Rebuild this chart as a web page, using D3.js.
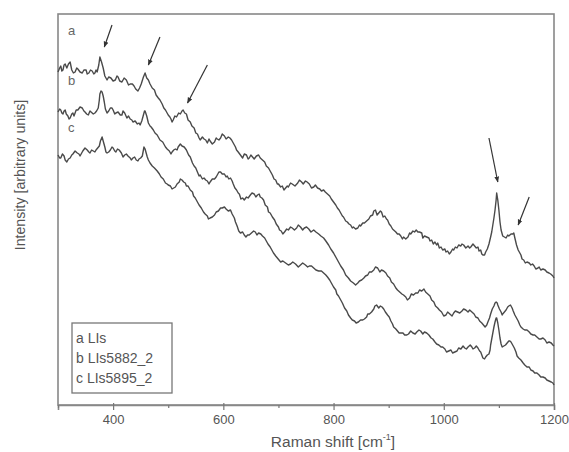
<!DOCTYPE html>
<html>
<head>
<meta charset="utf-8">
<script src="https://cdn.jsdelivr.net/npm/d3@7"></script>
<style>
  html, body { margin: 0; padding: 0; background: #fff; }
  svg { display: block; }
</style>
</head>
<body>
<div id="chart"></div>
<script>
// ---- Data (Raman shift in cm^-1, intensity in arbitrary units) ----
const seriesNames = ["a", "b", "c"];
const legendLabels = ["a LIs", "b LIs5882_2", "c LIs5895_2"];
const xTicks = [400, 600, 800, 1000, 1200];
const xMinorTicks = [300, 500, 700, 900, 1100];

const spectrumA = [
  [300,333],[303,337],[305,339],[307,334],[309,335],[311,340],[313,341],[316,337],[319,341],[322,343],[325,335],[328,332],[331,333],[334,337],[336,336],[340,333],[344,332],[347,335],[351,335],[353,331],[356,332],[359,335],[362,334],[365,331],[367,332],[369,335],[371,333],[374,340],[376,348],[379,343],[382,337],[385,329],[389,325],[392,328],[396,327],[400,324],[404,325],[407,329],[409,328],[412,324],[416,323],[420,327],[424,325],[428,320],[431,321],[435,321],[438,319],[441,316],[445,314],[448,317],[451,321],[455,328],[458,332],[461,327],[464,325],[467,321],[471,317],[475,315],[478,310],[482,307],[485,305],[489,301],[492,297],[495,295],[498,292],[500,290],[503,288],[505,286],[507,283],[509,285],[512,289],[515,288],[519,292],[522,291],[525,294],[527,295],[530,292],[533,291],[536,285],[540,283],[543,279],[547,277],[550,272],[553,271],[556,267],[558,265],[562,268],[565,266],[568,265],[571,262],[574,266],[576,264],[580,261],[584,263],[587,267],[589,266],[592,265],[595,267],[598,271],[602,269],[605,266],[609,268],[612,267],[615,265],[618,262],[622,258],[624,255],[627,253],[631,250],[635,247],[638,251],[642,250],[645,246],[647,247],[650,250],[653,248],[656,246],[660,249],[664,250],[667,247],[671,245],[675,243],[678,239],[682,237],[685,234],[689,230],[692,226],[695,225],[698,221],[700,221],[704,218],[707,219],[710,215],[713,217],[716,219],[718,218],[722,222],[725,221],[730,219],[735,222],[738,225],[742,223],[745,221],[749,224],[752,223],[756,221],[760,217],[764,218],[767,220],[771,217],[775,216],[778,214],[782,215],[785,213],[789,211],[793,209],[796,206],[800,203],[804,200],[807,197],[810,195],[813,192],[816,189],[818,188],[822,184],[825,183],[828,181],[831,180],[834,177],[836,178],[840,176],[844,177],[847,180],[849,179],[853,182],[856,182],[860,184],[864,186],[867,189],[871,190],[873,194],[876,195],[879,190],[882,192],[885,194],[887,193],[890,188],[893,189],[896,186],[898,185],[901,181],[904,179],[907,176],[909,175],[913,173],[916,171],[919,171],[922,169],[925,166],[927,168],[931,166],[935,168],[938,172],[940,171],[944,174],[947,173],[950,175],[953,173],[956,173],[960,172],[962,167],[965,169],[969,168],[973,167],[975,164],[978,165],[981,161],[984,163],[987,160],[989,162],[992,157],[995,158],[998,155],[1002,156],[1004,153],[1007,154],[1010,151],[1013,153],[1016,156],[1018,155],[1021,158],[1024,157],[1027,160],[1031,159],[1033,161],[1036,160],[1040,157],[1044,159],[1047,157],[1049,158],[1053,161],[1056,159],[1059,157],[1062,158],[1064,154],[1067,155],[1069,151],[1071,150],[1074,150],[1076,153],[1079,156],[1082,161],[1085,168],[1087,173],[1089,180],[1091,187],[1093,195],[1095,205],[1096,212],[1098,205],[1100,195],[1102,183],[1104,175],[1107,169],[1110,168],[1113,167],[1116,170],[1118,169],[1122,171],[1125,171],[1127,172],[1129,167],[1132,160],[1135,155],[1137,153],[1140,150],[1142,146],[1145,145],[1148,142],[1151,143],[1155,142],[1158,140],[1161,141],[1164,139],[1167,136],[1171,137],[1173,138],[1176,135],[1180,136],[1184,135],[1187,133],[1191,132],[1194,131],[1198,129],[1200,127]
];
const spectrumB = [
  [300,293],[303,296],[305,295],[307,292],[309,291],[311,294],[313,295],[315,291],[318,289],[320,286],[322,287],[325,291],[327,292],[329,289],[331,292],[333,295],[336,295],[340,298],[344,297],[347,294],[349,293],[352,291],[355,290],[358,294],[360,293],[364,291],[367,292],[370,294],[373,297],[375,305],[376,311],[378,314],[380,313],[382,309],[384,303],[386,296],[389,292],[392,294],[395,297],[398,297],[400,295],[403,291],[405,292],[409,293],[413,290],[416,290],[418,294],[421,292],[425,287],[428,289],[431,286],[434,285],[436,283],[440,284],[444,281],[447,282],[449,280],[452,284],[455,290],[457,294],[458,294],[461,289],[464,282],[467,279],[469,278],[473,275],[476,272],[480,270],[485,265],[490,263],[495,258],[498,256],[502,254],[505,251],[507,253],[510,255],[513,256],[516,255],[518,258],[522,261],[525,259],[529,258],[533,255],[537,250],[540,248],[544,242],[547,239],[550,237],[553,233],[556,229],[558,230],[562,226],[565,227],[568,225],[571,224],[574,221],[576,223],[580,226],[584,226],[587,228],[589,230],[592,233],[595,233],[598,231],[602,231],[605,228],[607,229],[610,226],[613,227],[616,224],[618,221],[621,217],[624,215],[627,212],[629,211],[632,206],[635,207],[638,205],[642,208],[645,207],[649,210],[652,212],[656,211],[659,208],[662,210],[665,211],[667,208],[670,207],[673,205],[676,200],[680,198],[682,193],[685,192],[689,188],[693,185],[696,181],[700,178],[702,175],[705,174],[708,171],[711,173],[715,176],[718,175],[722,178],[725,177],[729,175],[733,177],[736,180],[740,178],[744,175],[747,177],[751,178],[755,176],[759,173],[764,175],[768,173],[773,171],[777,169],[782,167],[786,164],[791,160],[795,156],[800,152],[804,148],[809,143],[813,139],[818,135],[822,130],[827,127],[831,124],[836,122],[840,120],[844,122],[847,124],[851,125],[855,127],[858,129],[862,130],[865,133],[869,133],[873,135],[876,138],[880,137],[884,133],[887,135],[891,134],[895,132],[898,129],[902,127],[905,123],[909,121],[913,117],[916,115],[920,113],[924,111],[927,110],[931,108],[934,105],[938,107],[941,111],[945,110],[949,112],[953,112],[956,115],[960,114],[964,116],[967,113],[971,111],[975,109],[978,105],[982,103],[985,99],[989,97],[992,95],[996,93],[1000,89],[1004,90],[1007,93],[1011,91],[1015,89],[1018,92],[1021,94],[1025,93],[1029,92],[1033,94],[1036,96],[1040,95],[1044,93],[1047,95],[1051,93],[1055,91],[1058,88],[1062,87],[1065,84],[1069,82],[1072,80],[1075,78],[1078,80],[1080,83],[1083,87],[1085,91],[1088,96],[1091,99],[1093,102],[1095,103],[1097,102],[1098,100],[1101,96],[1104,93],[1106,90],[1107,91],[1110,93],[1113,95],[1116,98],[1118,99],[1121,100],[1124,97],[1126,94],[1129,90],[1132,87],[1135,84],[1138,80],[1140,78],[1144,76],[1147,75],[1151,75],[1155,73],[1158,71],[1162,70],[1165,70],[1169,68],[1173,66],[1176,66],[1180,67],[1184,65],[1187,62],[1191,63],[1195,62],[1198,60],[1200,59]
];
const spectrumC = [
  [300,250],[303,247],[305,247],[308,251],[311,249],[313,245],[316,243],[319,246],[322,247],[325,250],[327,251],[331,254],[335,252],[338,251],[340,249],[343,252],[345,254],[349,257],[353,255],[356,253],[358,252],[361,255],[364,254],[367,253],[369,255],[372,257],[375,259],[377,264],[380,268],[382,264],[385,258],[387,253],[389,252],[392,253],[395,255],[398,258],[400,257],[403,254],[405,253],[408,256],[411,255],[415,252],[418,248],[421,250],[424,251],[427,249],[431,247],[433,245],[436,247],[439,248],[442,245],[445,244],[447,246],[450,247],[453,249],[455,255],[456,258],[458,256],[460,252],[462,248],[464,245],[467,242],[471,239],[475,237],[480,234],[484,231],[487,228],[491,226],[495,222],[498,221],[500,220],[504,219],[507,216],[510,217],[513,218],[516,221],[520,223],[522,226],[525,225],[528,223],[531,222],[533,219],[536,219],[540,215],[544,213],[546,209],[549,207],[553,203],[556,200],[560,197],[564,193],[567,191],[571,189],[573,186],[576,187],[580,188],[584,190],[587,193],[591,194],[595,197],[598,197],[602,198],[605,196],[609,194],[613,195],[616,191],[620,187],[622,183],[625,179],[628,174],[631,172],[635,173],[638,170],[641,168],[644,170],[647,170],[651,172],[655,174],[658,173],[661,170],[664,172],[668,171],[671,169],[675,167],[678,164],[681,161],[685,158],[688,155],[691,152],[695,149],[698,147],[701,145],[704,143],[708,144],[713,142],[718,140],[722,141],[726,143],[731,141],[736,138],[740,140],[744,142],[749,140],[753,138],[756,139],[760,139],[764,137],[768,135],[773,134],[778,134],[782,132],[786,130],[789,128],[793,125],[796,122],[800,118],[804,115],[806,111],[809,109],[813,105],[816,102],[820,97],[824,94],[827,90],[831,87],[834,85],[838,84],[841,82],[845,83],[849,85],[853,85],[856,86],[860,88],[862,91],[865,91],[869,93],[873,96],[875,99],[878,100],[882,97],[885,99],[888,98],[891,96],[894,93],[898,90],[901,88],[904,84],[907,81],[909,78],[913,76],[916,74],[919,72],[922,72],[926,72],[929,70],[933,70],[936,71],[940,74],[944,72],[948,71],[951,73],[955,75],[958,74],[962,71],[965,73],[969,72],[973,70],[977,67],[980,66],[984,63],[987,61],[991,60],[995,58],[998,58],[1002,56],[1005,53],[1009,54],[1013,55],[1016,52],[1020,53],[1024,54],[1027,57],[1031,56],[1035,59],[1038,57],[1041,56],[1044,58],[1048,60],[1051,58],[1053,56],[1056,57],[1059,59],[1062,57],[1065,54],[1067,53],[1069,50],[1071,47],[1074,46],[1076,48],[1079,50],[1082,51],[1084,55],[1085,60],[1087,66],[1089,72],[1091,78],[1093,83],[1095,87],[1096,87],[1098,82],[1100,75],[1102,67],[1104,61],[1106,58],[1109,59],[1112,60],[1115,62],[1118,64],[1120,64],[1122,63],[1125,60],[1128,57],[1131,53],[1133,49],[1136,47],[1140,45],[1144,42],[1147,40],[1151,38],[1155,38],[1158,35],[1162,34],[1165,32],[1169,32],[1173,30],[1176,28],[1180,28],[1184,27],[1187,25],[1191,24],[1195,23],[1198,22],[1200,20]
];
// curve tag positions (data coords)
const tagPositions = [[318,375],[318,325],[318,278]];
// arrows pointing at bands: [fromX, fromY, toX, toY] in data coords
const arrows = [
  [398,380,384,358],
  [485,368,464,340],
  [571,340,535,302],
  [1082,267,1098,223],
  [1155,208,1135,180]
];

// ---- Layout ----
const W = 569, H = 452;
const M = {left: 58, top: 14, right: 15, bottom: 47};
const iw = W - M.left - M.right, ih = H - M.top - M.bottom;
const FONT = "Liberation Sans, Arial, sans-serif";

const svg = d3.select("#chart").append("svg").attr("width", W).attr("height", H);
const defs = svg.append("defs");
defs.append("marker").attr("id","ah").attr("viewBox","0 0 10 10")
  .attr("refX",9).attr("refY",5).attr("markerWidth",5).attr("markerHeight",5)
  .attr("orient","auto")
  .append("path").attr("d","M0,1 L10,5 L0,9 Z").attr("fill","#333");

const x = d3.scaleLinear().domain([300, 1200]).range([M.left, M.left + iw]);
const y = d3.scaleLinear().domain([0, 391]).range([M.top + ih, M.top]);

const g = svg.append("g");

// frame
g.append("rect").attr("x", M.left).attr("y", M.top).attr("width", iw).attr("height", ih)
  .attr("fill","none").attr("stroke","#888").attr("stroke-width",1.6);

// x axis ticks
const ax = g.append("g").attr("transform",`translate(0,${M.top+ih})`);
ax.call(d3.axisBottom(x).tickValues(xTicks).tickSize(5).tickFormat(d3.format("d")));
ax.select(".domain").attr("stroke","#888").attr("stroke-width",1.6);
ax.selectAll(".tick line").attr("stroke","#777").attr("stroke-width",1.2).attr("y1",-2);
ax.selectAll(".tick text").attr("fill","#555").attr("font-family",FONT)
  .attr("font-size",13).attr("dy","0.85em");
const axm = g.append("g").attr("transform",`translate(0,${M.top+ih})`);
axm.call(d3.axisBottom(x).tickValues(xMinorTicks).tickSize(3).tickFormat(""));
axm.select(".domain").remove();
axm.selectAll(".tick line").attr("stroke","#777").attr("stroke-width",1.2);

// axis titles
const xt = svg.append("text").attr("x", 333).attr("y", 447)
  .attr("text-anchor","middle").attr("fill","#555")
  .attr("font-family",FONT).attr("font-size",15.5);
xt.append("tspan").text("Raman shift [cm");
xt.append("tspan").attr("font-size",9).attr("dy",-7).text("-1");
xt.append("tspan").attr("dy",7).text("]");

svg.append("text").attr("transform",`translate(25,175) rotate(-90)`)
  .attr("text-anchor","middle").attr("fill","#555")
  .attr("font-family",FONT).attr("font-size",14.2)
  .text("Intensity [arbitrary units]");

// spectra
const line = d3.line().x(d => x(d[0])).y(d => y(d[1]));
[spectrumA, spectrumB, spectrumC].forEach(s => {
  g.append("path").datum(s).attr("d", line).attr("fill","none")
    .attr("stroke","#4a4a4a").attr("stroke-width",1.4).attr("stroke-linejoin","round");
});

// curve tags
seriesNames.forEach((n,i) => {
  g.append("text").attr("x", x(tagPositions[i][0])).attr("y", y(tagPositions[i][1]))
    .attr("dy","0.35em").attr("fill","#666")
    .attr("font-family",FONT).attr("font-size",13).text(n);
});

// arrows
arrows.forEach(a => {
  g.append("line").attr("x1", x(a[0])).attr("y1", y(a[1])).attr("x2", x(a[2])).attr("y2", y(a[3]))
    .attr("stroke","#333").attr("stroke-width",1.2).attr("marker-end","url(#ah)");
});

// legend
const lg = g.append("g");
lg.append("rect").attr("x",72).attr("y",323).attr("width",100).attr("height",70)
  .attr("fill","#fff").attr("stroke","#777").attr("stroke-width",1.3);
legendLabels.forEach((t,i) => {
  lg.append("text").attr("x",76).attr("y",338 + i*20).attr("dy","0.35em")
    .attr("fill","#555").attr("font-family",FONT)
    .attr("font-size",14).text(t);
});
</script>
</body>
</html>
